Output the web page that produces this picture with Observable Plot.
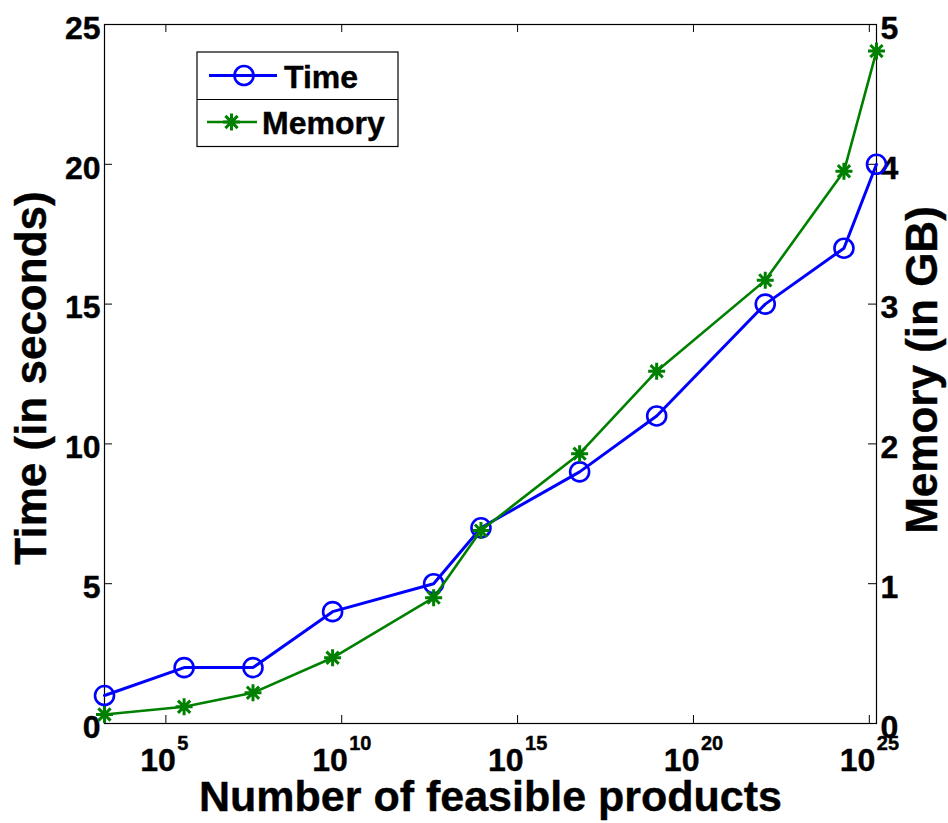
<!DOCTYPE html>
<html>
<head>
<meta charset="utf-8">
<script src="https://cdn.jsdelivr.net/npm/d3@7"></script>
<script src="https://cdn.jsdelivr.net/npm/@observablehq/plot@0.6"></script>
<style>
  html, body { margin: 0; padding: 0; background: #fff; }
  #chart svg { display: block; font-family: "Liberation Sans", Arial, Helvetica, sans-serif; }
</style>
</head>
<body>
<div id="chart"></div>
<script>
// Number of feasible products (log scale) for each run
const products = [1.8e3, 3.3e5, 3.0e7, 5.5e9, 4.1e12, 9.1e13, 5.8e16, 9.0e18, 1.1e22, 1.9e24, 1.6e25];
// Running time in seconds
const timeSeconds = [1, 2, 2, 4, 5, 7, 9, 11, 15, 17, 20];
// Memory used in GB
const memoryGB = [0.064, 0.12, 0.22, 0.47, 0.90, 1.38, 1.93, 2.52, 3.17, 3.95, 4.81];

const timeTicks = [0, 5, 10, 15, 20, 25];
const memoryTicks = [0, 1, 2, 3, 4, 5];
const xTickExponents = [5, 10, 15, 20, 25];

const seriesNames = ["Time", "Memory"];
const BLUE = "#0000ff";
const GREEN = "#008000";

// Both series share one vertical scale: memory is mapped onto the time axis
const secondsPerGB = timeTicks[timeTicks.length - 1] / memoryTicks[memoryTicks.length - 1];

const rows = products.map((p, i) => ({products: p, time: timeSeconds[i], memory: memoryGB[i] * secondsPerGB}));

const W = 948, H = 823;
const mL = 104, mR = 72, mT = 24, mB = 100;
const plotW = W - mL - mR, plotH = H - mT - mB;
const tickLen = 8;

// MATLAB-style "*" marker: a plus overlaid with a cross
const star = {
  draw(ctx, size) {
    const r = Math.sqrt(size / Math.PI);
    const d = r * 0.72;
    ctx.moveTo(-r, 0); ctx.lineTo(r, 0);
    ctx.moveTo(0, -r); ctx.lineTo(0, r);
    ctx.moveTo(-d, -d); ctx.lineTo(d, d);
    ctx.moveTo(-d, d); ctx.lineTo(d, -d);
  }
};

const font = {fontWeight: "bold", fill: "black", stroke: "black", strokeWidth: 0.4};

const chart = Plot.plot({
  width: W,
  height: H,
  marginLeft: mL,
  marginRight: mR,
  marginTop: mT,
  marginBottom: mB,
  x: {type: "log", domain: [products[0], products[products.length - 1]], axis: null},
  y: {domain: [timeTicks[0], timeTicks[timeTicks.length - 1]], axis: null},
  marks: [
    Plot.frame({stroke: "black", strokeWidth: 1.2}),
    // inward ticks: bottom / top
    Plot.tickX(xTickExponents, {x: d => 10 ** d, insetTop: plotH - tickLen, stroke: "black", strokeWidth: 1}),
    Plot.tickX(xTickExponents, {x: d => 10 ** d, insetBottom: plotH - tickLen, stroke: "black", strokeWidth: 1}),
    // inward ticks: left (time) / right (memory)
    Plot.tickY(timeTicks, {y: d => d, insetRight: plotW - tickLen, stroke: "black", strokeWidth: 1}),
    Plot.tickY(memoryTicks, {y: d => d * secondsPerGB, insetLeft: plotW - tickLen, stroke: "black", strokeWidth: 1}),
    // tick labels
    Plot.text(timeTicks, {y: d => d, text: d => String(d), frameAnchor: "left", textAnchor: "end", dx: -4, dy: 4, fontSize: 32, ...font}),
    Plot.text(memoryTicks, {y: d => d * secondsPerGB, text: d => String(d), frameAnchor: "right", textAnchor: "start", dx: 4, dy: 4, fontSize: 32, ...font}),
    Plot.text(xTickExponents, {x: d => 10 ** d, text: () => "10", frameAnchor: "bottom", lineAnchor: "bottom", textAnchor: "end",
      dy: 47, fontSize: 32, ...font}),
    Plot.text(xTickExponents, {x: d => 10 ** d, text: d => String(d), frameAnchor: "bottom", lineAnchor: "bottom", textAnchor: "start",
      dy: 26, fontSize: 20, ...font}),
    // axis titles
    Plot.text(["Number of feasible products"], {frameAnchor: "bottom", lineAnchor: "bottom", textAnchor: "middle", dy: 87, fontSize: 43, ...font}),
    Plot.text(["Time (in seconds)"], {frameAnchor: "left", lineAnchor: "bottom", textAnchor: "middle", rotate: -90, dx: -59, dy: 4, fontSize: 44, ...font}),
    Plot.text(["Memory (in GB)"], {frameAnchor: "right", lineAnchor: "bottom", textAnchor: "middle", rotate: -90, dx: 60, dy: -4, fontSize: 44, ...font}),
    // series
    Plot.line(rows, {x: "products", y: "time", stroke: BLUE, strokeWidth: 3}),
    Plot.dot(rows, {x: "products", y: "time", r: 9.5, stroke: BLUE, strokeWidth: 2.6, fill: "none"}),
    Plot.line(rows, {x: "products", y: "memory", stroke: GREEN, strokeWidth: 2.6}),
    Plot.dot(rows, {x: "products", y: "memory", symbol: star, r: 8.5, stroke: GREEN, strokeWidth: 3})
  ]
});

document.getElementById("chart").appendChild(chart);
const svg = d3.select(chart);

// Offset the "10" bases and their superscripts so each 10^n label sits centred on its tick
svg.selectAll("g[aria-label='text']").each(function() {
  const texts = d3.select(this).selectAll("text");
  if (texts.size() !== xTickExponents.length) return;
  const labels = texts.nodes().map(n => n.textContent);
  let shifts = null;
  if (labels.every(t => t === "10")) {
    shifts = xTickExponents.map(e => String(e).length === 1 ? 10 : 6);
  } else if (labels.every((t, i) => t === String(xTickExponents[i]))) {
    shifts = xTickExponents.map(e => String(e).length === 1 ? 11.5 : 7.5);
  }
  if (!shifts) return;
  texts.each(function(_, i) {
    const t = d3.select(this);
    t.attr("x", +t.attr("x") + shifts[i]);
  });
});

// Legend box in the upper left of the axes
const lg = svg.append("g").attr("font-weight", "bold").attr("font-size", 32).attr("text-anchor", "start");
lg.append("rect").attr("x", 197).attr("y", 52).attr("width", 201).attr("height", 94.5)
  .attr("fill", "white").attr("stroke", "black").attr("stroke-width", 1.2);
lg.append("line").attr("x1", 197).attr("x2", 398).attr("y1", 99.5).attr("y2", 99.5)
  .attr("stroke", "black").attr("stroke-width", 1.2);
// Time entry
lg.append("line").attr("x1", 209).attr("x2", 277).attr("y1", 75.5).attr("y2", 75.5)
  .attr("stroke", BLUE).attr("stroke-width", 3);
lg.append("circle").attr("cx", 244).attr("cy", 75.5).attr("r", 9.5)
  .attr("fill", "none").attr("stroke", BLUE).attr("stroke-width", 2.6);
lg.append("text").attr("x", 284).attr("y", 88).attr("stroke", "black").attr("stroke-width", 0.4).text(seriesNames[0]);
// Memory entry
lg.append("line").attr("x1", 207).attr("x2", 257).attr("y1", 122).attr("y2", 122)
  .attr("stroke", GREEN).attr("stroke-width", 2.6);
lg.append("path").attr("transform", "translate(231.5,122)")
  .attr("d", d3.symbol(star, Math.PI * 8.5 * 8.5)())
  .attr("fill", "none").attr("stroke", GREEN).attr("stroke-width", 3);
lg.append("text").attr("x", 262).attr("y", 134).attr("stroke", "black").attr("stroke-width", 0.4).text(seriesNames[1]);
</script>
</body>
</html>
